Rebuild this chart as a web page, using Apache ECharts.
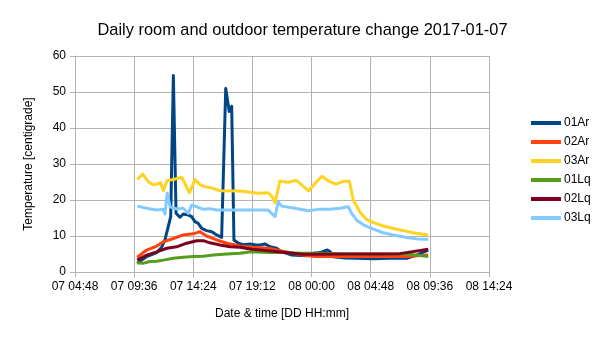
<!DOCTYPE html>
<html><head><meta charset="utf-8">
<script src="https://cdn.jsdelivr.net/npm/echarts@6/dist/echarts.min.js"></script>
<style>html,body{margin:0;padding:0;background:#fff}#c{width:605px;height:340px}</style>
</head><body><div id="c"></div>
<script>
const chartTitle = 'Daily room and outdoor temperature change 2017-01-07';
const seriesNames = ['01Ar', '02Ar', '03Ar', '01Lq', '02Lq', '03Lq'];
const seriesColors = ['#004586', '#ff420e', '#ffd320', '#579d1c', '#7e0021', '#83caff'];
const xTickLabels = ['07 04:48', '07 09:36', '07 14:24', '07 19:12', '08 00:00', '08 04:48', '08 09:36', '08 14:24'];
const yTickValues = [0, 10, 20, 30, 40, 50, 60];

const ar01Time = ['07 09:51','07 10:37','07 11:26','07 11:50','07 12:06','07 12:22','07 12:34','07 12:47','07 13:00','07 13:19','07 13:35','07 14:00','07 14:16','07 14:32','07 14:48','07 15:05','07 15:29','07 15:54','07 16:18','07 16:42','07 16:50','07 17:02','07 17:19','07 17:31','07 17:42','07 18:03','07 18:28','07 19:00','07 19:25','07 19:49','07 20:13','07 20:38','07 21:10','07 21:34','07 21:59','07 22:23','07 23:04','07 23:36','08 00:08','08 00:41','08 01:17','08 01:31','08 01:46','08 02:43','08 03:40','08 05:01','08 06:22','08 07:43','08 08:32','08 09:28'];
const ar01Temp = [2.4,4.3,5.4,6.9,8.9,12.6,15.4,54.6,16.3,15.2,16.1,15.8,15.4,14.0,13.5,12.1,11.5,11.2,10.3,9.6,9.8,51.0,44.6,46.0,8.9,8.0,7.6,7.8,7.6,7.5,7.8,7.0,6.6,5.6,5.2,4.7,4.6,4.5,5.2,5.4,6.1,5.6,4.2,3.9,3.8,3.7,3.8,3.8,4.7,6.1];

const ar02Time = ['07 09:51','07 10:37','07 11:26','07 11:58','07 12:47','07 13:35','07 14:24','07 14:57','07 15:29','07 16:18','07 17:07','07 18:11','07 19:08','07 20:29','07 21:51','07 23:12','08 00:17','08 02:43','08 05:33','08 07:43','08 09:28'];
const ar02Temp = [4.1,6.1,7.2,8.4,9.3,10.3,10.6,11.2,10.0,8.9,8.0,7.2,6.9,6.6,5.6,4.7,4.3,4.3,4.3,4.3,4.7];

const ar03Time = ['07 09:51','07 10:18','07 10:45','07 11:09','07 11:26','07 11:45','07 11:58','07 12:17','07 12:47','07 13:28','07 13:44','07 14:05','07 14:32','07 14:57','07 15:21','07 15:45','07 16:34','07 18:11','07 19:41','07 20:29','07 20:47','07 21:02','07 21:26','07 22:07','07 22:44','07 23:12','07 23:45','08 00:17','08 00:51','08 01:25','08 01:59','08 02:35','08 03:04','08 03:23','08 03:56','08 04:28','08 05:01','08 05:49','08 06:38','08 07:27','08 08:15','08 09:28'];
const ar03Temp = [25.7,27.2,25.1,24.2,24.4,24.8,22.6,25.4,25.7,26.3,24.5,22.0,25.7,24.2,23.7,23.5,22.6,22.5,21.9,22.0,21.0,19.2,25.3,24.9,25.5,24.2,22.5,24.6,26.6,25.2,24.4,25.2,25.2,20.0,16.6,14.6,13.7,12.8,12.1,11.5,10.9,10.3];

const lq01Time = ['07 09:51','07 10:18','07 10:53','07 11:26','07 11:58','07 12:47','07 13:35','07 14:24','07 15:13','07 16:02','07 17:07','07 18:11','07 19:08','07 20:29','07 21:51','07 23:12','08 00:33','08 02:43','08 05:33','08 07:43','08 09:28'];
const lq01Temp = [2.6,2.4,2.9,3.0,3.3,3.8,4.1,4.3,4.4,4.7,5.0,5.2,5.6,5.4,5.4,5.2,5.2,5.0,5.0,5.0,4.3];

const lq02Time = ['07 09:51','07 10:37','07 11:26','07 12:15','07 13:03','07 13:52','07 14:41','07 15:13','07 15:45','07 16:34','07 17:23','07 18:11','07 19:08','07 20:29','07 21:51','07 23:12','08 00:33','08 02:43','08 05:33','08 07:10','08 09:28'];
const lq02Temp = [3.3,4.7,5.6,6.6,7.0,8.0,8.7,8.7,8.1,7.5,7.0,6.9,6.3,5.9,5.4,4.9,4.9,5.0,5.0,5.1,6.3];

const lq03Time = ['07 09:51','07 10:37','07 11:26','07 11:58','07 12:06','07 12:17','07 12:31','07 13:03','07 13:35','07 14:00','07 14:16','07 14:41','07 15:13','07 15:45','07 16:18','07 18:11','07 20:29','07 21:02','07 21:18','07 21:34','07 22:39','07 23:44','08 00:33','08 01:30','08 02:18','08 02:59','08 03:15','08 03:40','08 04:12','08 05:01','08 05:49','08 06:38','08 07:43','08 08:32','08 09:28'];
const lq03Temp = [18.3,17.7,17.2,17.4,16.1,21.9,18.1,17.5,17.7,16.3,18.6,18.1,17.4,17.6,17.2,17.2,17.2,15.4,19.5,18.3,17.7,17.0,17.4,17.4,17.7,18.1,16.3,14.4,13.1,11.9,10.9,10.3,9.6,9.2,9.1];

const seriesTimes = [ar01Time, ar02Time, ar03Time, lq01Time, lq02Time, lq03Time];
const seriesTemps = [ar01Temp, ar02Temp, ar03Temp, lq01Temp, lq02Temp, lq03Temp];

function toMin(s) {
  const [d, hm] = s.split(' ');
  const [h, m] = hm.split(':');
  return (Number(d) - 7) * 1440 + Number(h) * 60 + Number(m);
}
const xMin = toMin(xTickLabels[0]);
const xMax = toMin(xTickLabels[xTickLabels.length - 1]);
const xStep = toMin(xTickLabels[1]) - xMin;

const FONT = '"Liberation Sans", Arial, sans-serif';
const chart = echarts.init(document.getElementById('c'), null, { renderer: 'canvas' });
chart.setOption({
  animation: false,
  backgroundColor: '#ffffff',
  title: {
    text: chartTitle, left: 'center', top: 17,
    textStyle: { fontFamily: FONT, fontSize: 16.4, fontWeight: 'normal', color: '#000' }
  },
  legend: {
    orient: 'vertical', left: 526, top: 112, itemWidth: 30, itemHeight: 4, itemGap: 7,
    icon: 'rect',
    data: seriesNames,
    textStyle: { fontFamily: FONT, fontSize: 12, color: '#000', padding: [0, 0, 0, -2] }
  },
  grid: { left: 75, right: 116, top: 56, bottom: 68, containLabel: false },
  xAxis: {
    type: 'value', min: xMin, max: xMax, interval: xStep,
    name: 'Date & time [DD HH:mm]', nameLocation: 'middle', nameGap: 36,
    nameTextStyle: { fontFamily: FONT, fontSize: 12, color: '#000' },
    axisLine: { show: true, lineStyle: { color: '#b3b3b3', width: 1 } },
    axisTick: { show: true, length: 5, lineStyle: { color: '#b3b3b3' } },
    splitLine: { show: true, lineStyle: { color: '#b3b3b3', width: 1 } },
    axisLabel: {
      margin: 9, fontFamily: FONT, fontSize: 12, color: '#000',
      formatter: v => xTickLabels[Math.round((v - xMin) / xStep)] || ''
    }
  },
  yAxis: {
    type: 'value', min: yTickValues[0], max: yTickValues[yTickValues.length - 1], interval: 10,
    name: 'Temperature [centigrade]', nameLocation: 'middle', nameGap: 40, nameRotate: 90,
    nameTextStyle: { fontFamily: FONT, fontSize: 12, color: '#000' },
    axisLine: { show: true, lineStyle: { color: '#b3b3b3', width: 1 } },
    axisTick: { show: true, length: 5, lineStyle: { color: '#b3b3b3' } },
    splitLine: { show: true, lineStyle: { color: '#b3b3b3', width: 1 } },
    axisLabel: { margin: 9, fontFamily: FONT, fontSize: 12, color: '#000' }
  },
  series: seriesNames.map((name, i) => ({
    name, type: 'line', showSymbol: false, symbol: 'none',
    color: seriesColors[i],
    lineStyle: { width: 3, color: seriesColors[i], join: 'round' },
    data: seriesTimes[i].map((t, j) => [toMin(t), seriesTemps[i][j]])
  }))
});
</script>
</body></html>
